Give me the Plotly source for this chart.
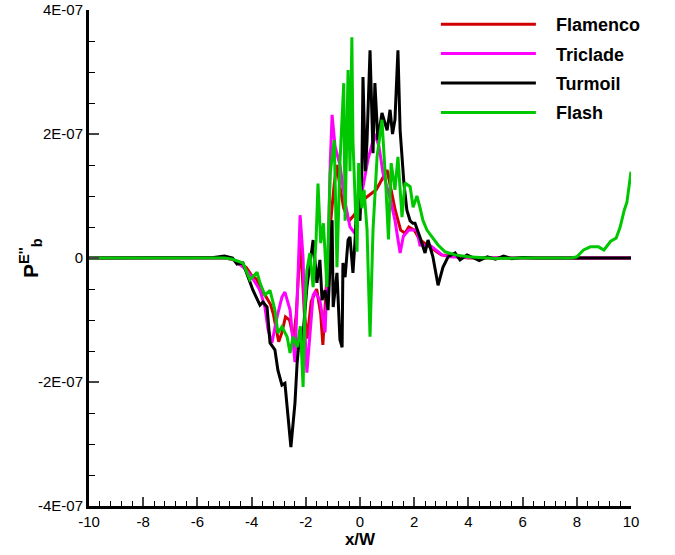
import plotly.graph_objects as go

SCALE = 1e-7  # values below are in units of 1E-07

flamenco_x = [-10, -6, -5.0, -4.7, -4.5, -4.2, -4.0, -3.8, -3.69, -3.5, -3.3, -3.2, -3.0, -2.88, -2.75,
              -2.6, -2.45, -2.35, -2.2, -2.05, -1.95, -1.8, -1.6, -1.45, -1.37, -1.25, -1.1, -0.95,
              -0.85, -0.74, -0.6, -0.4, -0.2, 0.0, 0.3, 0.6, 1.0, 1.15, 1.3, 1.5, 1.66, 1.8, 2.0,
              2.2, 2.5, 3.0, 3.5, 4.0, 6.0, 10.0]
flamenco_y = [0, 0, 0, -0.02, -0.08, -0.15, -0.28, -0.35, -0.52, -0.6, -0.75, -0.9, -1.35, -1.2, -0.95,
              -1.0, -1.3, -0.9, 0.3, -0.9, -1.3, -0.7, -0.5, -0.9, -1.4, -0.5, 0.5, 1.2,
              1.5, 1.15, 0.8, 0.6, 0.7, 0.9, 1.0, 1.1, 1.42, 1.1, 0.77, 0.45, 0.4, 0.5, 0.45,
              0.3, 0.2, 0.05, 0.02, 0.0, 0.0, 0.0]

triclade_x = [-10, -6, -5.0, -4.7, -4.5, -4.3, -4.0, -3.8, -3.69, -3.51, -3.39, -3.25, -3.06, -2.88,
              -2.77, -2.58, -2.47, -2.40, -2.32, -2.21, -2.1, -2.03, -1.96, -1.85, -1.73, -1.66,
              -1.48, -1.29, -1.18, -1.1, -1.03, -0.92, -0.74, -0.55, -0.37, -0.2, 0.0, 0.3, 0.55,
              0.7, 0.85, 1.1, 1.29, 1.48, 1.6, 1.8, 2.1, 2.21, 2.6, 3.03, 3.3, 4.0, 6.0, 10.0]
triclade_y = [0, 0, 0, -0.02, -0.08, -0.15, -0.3, -0.45, -0.52, -0.79, -1.16, -1.37, -0.95, -0.63,
              -0.55, -0.84, -1.32, -1.68, -0.7, 0.69, 0.0, -1.2, -1.85, -1.3, -0.6, -0.55,
              -0.68, -1.2, 0.0, 1.5, 2.31, 1.8, 1.5, 0.9, 0.5, 0.4, 0.9, 1.6, 2.0,
              1.8, 1.37, 0.98, 0.61, 0.08, 0.35, 0.45, 0.45, 0.21, 0.2, 0.05, 0.02, 0.01, 0.0, 0.0]

turmoil_x = [-10, -6, -5.4, -5.0, -4.7, -4.54, -4.32, -3.95, -3.69, -3.58, -3.43, -3.32, -3.14,
             -3.03, -2.88, -2.77, -2.66, -2.55, -2.40, -2.32, -2.21, -2.14, -1.96, -1.73, -1.59,
             -1.48, -1.40, -1.29, -1.18, -1.10, -1.03, -0.99, -0.92, -0.85, -0.74, -0.66, -0.63,
             -0.55, -0.44, -0.37, -0.26, -0.18, -0.11, 0.0, 0.07, 0.11, 0.2, 0.26, 0.37, 0.48,
             0.55, 0.66, 0.81, 1.00, 1.11, 1.20, 1.29, 1.40, 1.48, 1.55, 1.62, 1.73, 1.85, 1.95,
             2.03, 2.21, 2.40, 2.51, 2.69, 2.88, 3.06, 3.25, 3.51, 3.69, 3.95, 4.2, 4.4, 4.7,
             5.0, 5.3, 5.6, 6.0, 6.5, 10.0]
turmoil_y = [0, 0, 0.01, 0.03, 0.0, -0.1, -0.08, -0.52, -0.76, -0.71, -0.79, -1.37, -1.48,
             -1.81, -2.05, -2.02, -2.5, -3.05, -2.34, -1.69, -1.16, -1.44, -0.47, 0.29, -0.4,
             -0.03, -0.68, -0.52, -0.84, 0.08, 0.61, -0.79, -0.47, -0.24, -1.32, -1.44, -0.08,
             -0.31, 0.29, 0.34, -0.24, 0.3, 0.98, 0.6, 1.42, 2.92, 1.4, 1.9, 3.35, 1.69,
             2.82, 1.9, 2.34, 2.06, 2.39, 2.0, 2.23, 3.35, 2.06, 1.53, 1.21, 0.77, 0.6, 0.56,
             0.56, 0.34, 0.08, 0.29, 0.02, -0.44, -0.15, 0.02, 0.08, -0.03, 0.05, 0.0, -0.04, 0.02,
             -0.02, 0.03, -0.01, 0.01, 0.0, 0.0]

flash_x = [-10, -6, -5.0, -4.7, -4.32, -4.06, -3.8, -3.69, -3.51, -3.32, -3.14, -3.03, -2.88,
           -2.69, -2.58, -2.47, -2.32, -2.2, -2.14, -2.10, -2.03, -1.96, -1.85, -1.73, -1.62,
           -1.55, -1.45, -1.35, -1.22, -1.10, -0.95, -0.85, -0.74, -0.60, -0.55, -0.44, -0.37,
           -0.30, -0.26, -0.18, -0.11, -0.05, 0.07, 0.15, 0.26, 0.37, 0.48, 0.63, 0.81, 0.95,
           1.05, 1.15, 1.29, 1.40, 1.55, 1.66, 1.85, 1.96, 2.10, 2.21, 2.32, 2.47, 2.69, 2.88,
           3.14, 3.51, 3.99, 4.5, 5.0, 6.0, 7.0, 7.8, 8.0, 8.25, 8.5, 8.8, 9.0, 9.25, 9.45,
           9.6, 9.75, 9.85, 10.0]
flash_y = [0, 0, 0, -0.02, -0.08, -0.35, -0.23, -0.4, -0.6, -0.52, -0.84, -1.21, -1.11,
           -1.27, -1.53, -1.27, -1.44, -1.1, -1.6, -2.08, -0.76, -0.2, 0.08, -0.47, 0.3,
           1.2, 0.24, 0.56, -0.47, 1.37, 1.9, -0.15, 1.53, 2.82, 0.6, 3.03, 1.4,
           3.56, 1.9, 1.0, 0.1, 1.53, 0.8, 1.1, 0.45, -1.27, 0.45, 1.63, 2.23, 1.2,
           0.3, 1.53, 1.1, 1.63, 0.66, 1.21, 1.15, 0.82, 1.0, 0.82, 0.61, 0.45, 0.32, 0.21,
           0.10, 0.05, 0.02, 0.0, -0.01, 0.0, 0.0, 0.0, 0.02, 0.13, 0.18, 0.18, 0.13, 0.27, 0.32,
           0.5, 0.77, 0.9, 1.39]

series = [
    ("Flamenco", flamenco_x, flamenco_y, "#d00000"),
    ("Triclade", triclade_x, triclade_y, "#ff00ff"),
    ("Turmoil", turmoil_x, turmoil_y, "#000000"),
    ("Flash", flash_x, flash_y, "#00c800"),
]

x_tickvals = [-10, -8, -6, -4, -2, 0, 2, 4, 6, 8, 10]
x_ticktext = ["-10", "-8", "-6", "-4", "-2", "0", "2", "4", "6", "8", "10"]
y_tickvals = [-4, -2, 0, 2, 4]
y_ticktext = ["-4E-07", "-2E-07", "0", "2E-07", "4E-07"]

fig = go.Figure()
for name, xs, ys, col in series:
    fig.add_trace(go.Scatter(x=xs, y=[v * SCALE for v in ys], mode="lines",
                             name="\u00a0\u00a0\u00a0" + name, legendgroup=name,
                             line=dict(color=col, width=3)))

font_family = "Liberation Sans, Arial, sans-serif"
fig.update_layout(
    width=675, height=555,
    margin=dict(l=89, r=44, t=10, b=49, autoexpand=False),
    paper_bgcolor="white", plot_bgcolor="white",
    font=dict(family=font_family, size=15, color="black"),
    showlegend=True,
    legend=dict(x=0.64, y=1 - 6 / 555, xanchor="left", yanchor="top", yref="container",
                font=dict(size=18, family=font_family, weight="bold"),
                itemwidth=95, tracegroupgap=3, bgcolor="rgba(0,0,0,0)"),
    xaxis=dict(range=[-10, 10], tickvals=x_tickvals, ticktext=x_ticktext,
               ticks="inside", ticklen=9, tickwidth=2, automargin=False,
               showline=True, linecolor="black", linewidth=3, showgrid=False, zeroline=False,
               minor=dict(dtick=0.4, tick0=-10, ticks="inside", ticklen=5, tickwidth=1, tickcolor="black"),
               title=dict(text="<b>x/W</b>", font=dict(size=17), standoff=4),
               tickfont=dict(size=15)),
    yaxis=dict(range=[-4 * SCALE, 4 * SCALE], tickvals=[v * SCALE for v in y_tickvals],
               ticktext=y_ticktext, ticks="inside", ticklen=10, tickwidth=2, automargin=False,
               showline=True, linecolor="black", linewidth=3, showgrid=False, zeroline=False,
               minor=dict(dtick=0.5 * SCALE, tick0=0, ticks="inside", ticklen=6, tickwidth=1, tickcolor="black"),
               tickfont=dict(size=15)),
    annotations=[dict(text="<b>P<sup>E''</sup><sub>b</sub></b>", textangle=-90,
                      xref="paper", yref="paper", x=(30 - 89) / 542, y=0.5,
                      xanchor="center", yanchor="middle", showarrow=False,
                      font=dict(size=21, family=font_family))],
)

fig.write_html("out.html")
